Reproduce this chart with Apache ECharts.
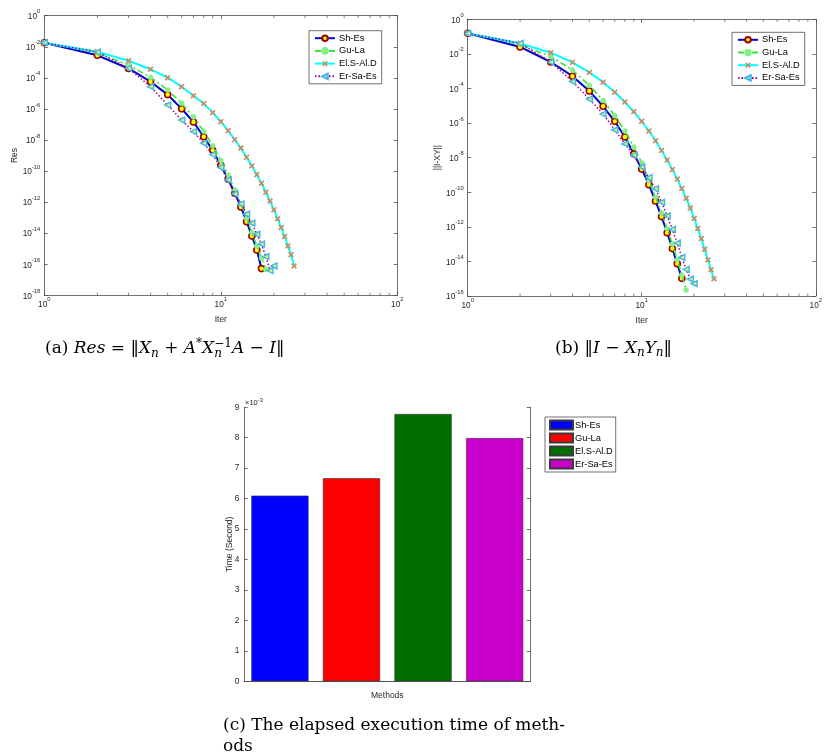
<!DOCTYPE html>
<html>
<head>
<meta charset="utf-8">
<script src="https://cdn.jsdelivr.net/npm/echarts@6/dist/echarts.min.js"></script>
<style>
  html, body { margin: 0; padding: 0; background: #ffffff; }
  #chart { width: 825px; height: 756px; }
</style>
</head>
<body>
<div id="chart"></div>
<script>
// ---- method names ----
const methods = ['Sh-Es', 'Gu-La', 'El.S-Al.D', 'Er-Sa-Es'];

// ---- (a) residual Res per iteration (iteration = position + 1) ----
const resShEs = [1.82e-2, 2.82e-3, 4.0e-4, 5.62e-5, 8.32e-6, 1.02e-6, 1.45e-7, 1.62e-8, 2.14e-9,
  2.34e-10, 3.09e-11, 3.72e-12, 4.90e-13, 5.50e-14, 6.61e-15, 8.32e-16, 5.25e-17];
const resGuLa = [1.82e-2, 3.98e-3, 6.61e-4, 1.07e-4, 1.66e-5, 2.29e-6, 3.02e-7, 3.63e-8, 4.17e-9,
  4.79e-10, 5.50e-11, 6.31e-12, 7.24e-13, 8.71e-14, 1.10e-14, 1.51e-15, 2.51e-16, 4.57e-17];
const resElSAlD = [1.82e-2, 4.79e-3, 1.26e-3, 3.55e-4, 1.02e-4, 2.69e-5, 7.08e-6, 2.19e-6, 5.75e-7,
  1.51e-7, 3.98e-8, 1.05e-8, 3.02e-9, 7.59e-10, 2.14e-10, 5.89e-11, 1.62e-11, 4.27e-12, 1.17e-12,
  3.16e-13, 8.32e-14, 2.29e-14, 6.03e-15, 1.51e-15, 4.17e-16, 7.76e-17];
const resErSaEs = [1.82e-2, 4.57e-3, 4.07e-4, 2.69e-5, 1.78e-6, 1.91e-7, 3.47e-8, 6.17e-9, 1.15e-9,
  1.74e-10, 2.69e-11, 3.39e-12, 7.59e-13, 1.66e-13, 4.37e-14, 8.51e-15, 1.95e-15, 3.09e-16,
  3.89e-17, 7.76e-17];

// ---- (b) ||I - X_n Y_n|| per iteration ----
const errShEs = [1.55e-1, 2.51e-2, 3.39e-3, 5.13e-4, 7.08e-5, 9.33e-6, 1.26e-6, 1.55e-7, 1.66e-8,
  2.19e-9, 2.75e-10, 3.09e-11, 3.89e-12, 4.57e-13, 5.62e-14, 7.41e-15, 1.05e-15];
const errGuLa = [1.55e-1, 3.55e-2, 6.92e-3, 1.17e-3, 1.51e-4, 2.00e-5, 2.63e-6, 3.47e-7, 4.17e-8,
  5.01e-9, 4.47e-10, 5.25e-11, 6.31e-12, 7.94e-13, 1.0e-13, 1.26e-14, 1.58e-15, 2.24e-16];
const errElSAlD = [1.55e-1, 4.07e-2, 1.17e-2, 3.24e-3, 8.51e-4, 2.29e-4, 6.03e-5, 1.66e-5, 4.57e-6,
  1.26e-6, 3.47e-7, 9.55e-8, 2.63e-8, 7.24e-9, 2.04e-9, 5.75e-10, 1.62e-10, 4.47e-11, 1.23e-11,
  3.02e-12, 7.94e-13, 2.09e-13, 5.01e-14, 1.26e-14, 3.31e-15, 1.0e-15];
const errErSaEs = [1.55e-1, 4.07e-2, 3.39e-3, 2.51e-4, 2.45e-5, 3.31e-6, 3.98e-7, 6.17e-8, 1.41e-8,
  2.88e-9, 6.92e-10, 1.55e-10, 2.63e-11, 4.27e-12, 7.08e-13, 1.15e-13, 1.70e-14, 3.47e-15,
  9.55e-16, 5.13e-16];

// ---- (c) elapsed time in seconds ----
const timeSeconds = [6.10e-3, 6.67e-3, 8.78e-3, 7.99e-3];

// ---- log-axis minor tick positions on the iteration axis ----
const minorTickValues = [2, 3, 4, 5, 6, 7, 8, 9, 20, 30, 40, 50, 60, 70, 80, 90];

// ---- styling ----
const SANS = 'Liberation Sans';
const SERIF = 'DejaVu Serif';
const BOX = '#4d4d4d';
const TXT = '#262626';

const seriesStyle = {
  'Sh-Es': {
    lineStyle: { color: '#0000d0', width: 2, type: 'solid' },
    symbol: 'circle', symbolSize: 6,
    itemStyle: { color: '#ffff00', borderColor: '#a00000', borderWidth: 1.6 }
  },
  'Gu-La': {
    lineStyle: { color: '#3be03b', width: 1.6, type: [6, 3, 2, 3] },
    symbol: 'circle', symbolSize: 5,
    itemStyle: { color: '#86ef86', borderColor: '#86ef86', borderWidth: 0.5 }
  },
  'El.S-Al.D': {
    lineStyle: { color: '#00ffff', width: 2, type: 'solid' },
    symbol: 'path://M0,2L2,0L5,3L8,0L10,2L7,5L10,8L8,10L5,7L2,10L0,8L3,5Z',
    symbolSize: 6,
    itemStyle: { color: '#bf9067', borderColor: '#bf9067', borderWidth: 0 }
  },
  'Er-Sa-Es': {
    lineStyle: { color: '#a000a0', width: 1.5, type: [1.5, 2] },
    symbol: 'path://M0,5L10,0L10,10Z', symbolSize: 6,
    itemStyle: { color: '#e4ef6a', borderColor: '#3cb8ee', borderWidth: 1.4 }
  }
};

function pairs(values) {
  return values.map((v, i) => [i + 1, v]);
}

function lineSeries(name, values, axisIdx, z) {
  const st = seriesStyle[name];
  return {
    type: 'line', name: name,
    xAxisIndex: axisIdx, yAxisIndex: axisIdx,
    data: pairs(values),
    symbol: st.symbol, symbolSize: st.symbolSize, showSymbol: true,
    lineStyle: st.lineStyle, itemStyle: st.itemStyle,
    emphasis: { disabled: true }, silent: true, z: z, clip: false
  };
}

// power-of-ten tick labels: "10" with a raised exponent
function expLabel(v) {
  const e = Math.round(Math.log10(v));
  return '{b|10}{s|' + e + '}';
}
const expRich = {
  b: { fontSize: 8.3, fontFamily: SANS, color: TXT, lineHeight: 14, verticalAlign: 'top', padding: [4, 0, 0, 0] },
  s: { fontSize: 5.8, fontFamily: SANS, color: TXT, lineHeight: 4, verticalAlign: 'top' }
};

function logX(gridIndex, position, showLabels) {
  return {
    type: 'log', logBase: 10, min: 1, max: 100, gridIndex: gridIndex, position: position,
    axisLine: { show: true, lineStyle: { color: BOX, width: 0.8 } },
    axisTick: { show: true, inside: true, length: 3.5, lineStyle: { color: BOX, width: 0.8 } },
    axisLabel: showLabels ? { show: true, margin: 1.5, formatter: expLabel, rich: expRich } : { show: false },
    splitLine: { show: false }, minorTick: { show: false },
    name: showLabels ? 'Iter' : '', nameLocation: 'middle', nameGap: 20,
    nameTextStyle: { fontFamily: SANS, fontSize: 8.5, color: TXT }
  };
}

function logY(gridIndex, position, minVal, name, nameGap) {
  const show = position === 'left';
  return {
    type: 'log', logBase: 100, min: minVal, max: 1, gridIndex: gridIndex, position: position,
    axisLine: { show: true, lineStyle: { color: BOX, width: 0.8 } },
    axisTick: { show: true, inside: true, length: 3.5, lineStyle: { color: BOX, width: 0.8 } },
    axisLabel: show ? { show: true, margin: 4, formatter: expLabel, rich: expRich } : { show: false },
    splitLine: { show: false }, minorTick: { show: false },
    name: show ? name : '', nameLocation: 'middle', nameGap: nameGap, nameRotate: 90,
    nameTextStyle: { fontFamily: SANS, fontSize: 8.5, color: TXT }
  };
}

function minorTicks(axisIdx, yMin) {
  return {
    type: 'custom', xAxisIndex: axisIdx, yAxisIndex: axisIdx, silent: true, clip: false, z: 1,
    data: minorTickValues.map(v => [v, yMin]),
    renderItem: function (params, api) {
      const b = api.coord([api.value(0), yMin]);
      const t = api.coord([api.value(0), 1]);
      const st = { stroke: BOX, lineWidth: 0.7 };
      return {
        type: 'group', children: [
          { type: 'line', shape: { x1: b[0], y1: b[1], x2: b[0], y2: b[1] - 2.5 }, style: st },
          { type: 'line', shape: { x1: t[0], y1: t[1], x2: t[0], y2: t[1] + 2.5 }, style: st }
        ]
      };
    }
  };
}

const lineLegendBase = {
  orient: 'vertical', data: methods,
  itemWidth: 20, itemHeight: 7, itemGap: 3.7,
  padding: [3, 5, 3, 5],
  backgroundColor: '#ffffff', borderColor: '#333333', borderWidth: 0.7, borderRadius: 0,
  textStyle: { fontFamily: SANS, fontSize: 9.3, color: '#000000', padding: [0, 0, 0, -1] },
  selectedMode: false
};

// ---- bar chart (c) ----
const barColors = ['#0000ff', '#ff0000', '#006f00', '#cc00cc'];
const barSuffix = ' (time)';
const barSeries = methods.map((m, i) => ({
  type: 'bar', name: m + barSuffix, xAxisIndex: 4, yAxisIndex: 4,
  data: [timeSeconds[i]],
  barGap: '25%', barCategoryGap: '4.9%',
  itemStyle: { color: barColors[i], borderColor: '#3a3a3a', borderWidth: 0.6 },
  emphasis: { disabled: true }, silent: true
}));

const option = {
  animation: false,
  backgroundColor: '#ffffff',
  grid: [
    { left: 44.3, top: 15.7, width: 353, height: 279.6 },
    { left: 467.7, top: 19.3, width: 352.3, height: 276.7 },
    { left: 244.3, top: 407.3, width: 286, height: 274 }
  ],
  xAxis: [
    logX(0, 'bottom', true), logX(0, 'top', false),
    logX(1, 'bottom', true), logX(1, 'top', false),
    {
      type: 'category', gridIndex: 2, position: 'bottom', data: ['Methods'],
      axisLine: { show: true, lineStyle: { color: BOX, width: 0.8 } },
      axisTick: { show: false }, axisLabel: { show: false },
      name: 'Methods', nameLocation: 'middle', nameGap: 10,
      nameTextStyle: { fontFamily: SANS, fontSize: 8.5, color: TXT }
    },
    {
      type: 'category', gridIndex: 2, position: 'top', data: ['Methods'],
      axisLine: { show: true, lineStyle: { color: BOX, width: 0.8 } },
      axisTick: { show: false }, axisLabel: { show: false }
    }
  ],
  yAxis: [
    logY(0, 'left', 1e-18, 'Res', 25), logY(0, 'right', 1e-18, '', 0),
    logY(1, 'left', 1e-16, '||I-XY||', 22), logY(1, 'right', 1e-16, '', 0),
    {
      type: 'value', gridIndex: 2, position: 'left', min: 0, max: 0.009, interval: 0.001,
      axisLine: { show: true, lineStyle: { color: BOX, width: 0.8 } },
      axisTick: { show: true, inside: true, length: 3.5, lineStyle: { color: BOX, width: 0.8 } },
      axisLabel: { margin: 5, fontFamily: SANS, fontSize: 8.3, color: TXT,
        formatter: v => String(Math.round(v * 1000)) },
      splitLine: { show: false },
      name: 'Time (Second)', nameLocation: 'middle', nameGap: 10, nameRotate: 90,
      nameMoveOverlap: false,
      nameTextStyle: { fontFamily: SANS, fontSize: 8.5, color: TXT }
    },
    {
      type: 'value', gridIndex: 2, position: 'right', min: 0, max: 0.009, interval: 0.001,
      axisLine: { show: true, lineStyle: { color: BOX, width: 0.8 } },
      axisTick: { show: true, inside: true, length: 3.5, lineStyle: { color: BOX, width: 0.8 } },
      axisLabel: { show: false }, splitLine: { show: false }
    }
  ],
  legend: [
    Object.assign({}, lineLegendBase, { left: 309, top: 30.7 }),
    Object.assign({}, lineLegendBase, { left: 732, top: 32.3 }),
    {
      orient: 'vertical', left: 545, top: 417,
      data: methods.map(m => ({ name: m + barSuffix, icon: 'rect' })),
      formatter: n => n.replace(barSuffix, ''),
      itemWidth: 23, itemHeight: 9, itemGap: 2,
      padding: [2.5, 3, 2.5, 4],
      backgroundColor: '#ffffff', borderColor: '#333333', borderWidth: 0.7,
      textStyle: { fontFamily: SANS, fontSize: 9.3, color: '#000000', padding: [0, 0, 0, -3] },
      selectedMode: false
    }
  ],
  series: [
    minorTicks(0, 1e-18),
    minorTicks(2, 1e-16),
    lineSeries('Sh-Es', resShEs, 0, 3),
    lineSeries('Gu-La', resGuLa, 0, 4),
    lineSeries('El.S-Al.D', resElSAlD, 0, 5),
    lineSeries('Er-Sa-Es', resErSaEs, 0, 6),
    lineSeries('Sh-Es', errShEs, 2, 3),
    lineSeries('Gu-La', errGuLa, 2, 4),
    lineSeries('El.S-Al.D', errElSAlD, 2, 5),
    lineSeries('Er-Sa-Es', errErSaEs, 2, 6)
  ].concat(barSeries),
  graphic: []
};

// ---- captions (math typeset with rich text; padding shifts sub/superscripts) ----
const capSize = 17;
const smallSize = 12;
const capRich = {
  r: { fontFamily: SERIF, fontSize: capSize, color: '#000', lineHeight: 26, verticalAlign: 'middle' },
  i: { fontFamily: SERIF, fontSize: capSize, fontStyle: 'italic', color: '#000', lineHeight: 26, verticalAlign: 'middle' },
  sub: { fontFamily: SERIF, fontSize: smallSize, fontStyle: 'italic', color: '#000', lineHeight: 26, verticalAlign: 'middle', padding: [9, 0, 0, 0] },
  subStack: { fontFamily: SERIF, fontSize: smallSize, fontStyle: 'italic', color: '#000', lineHeight: 26, verticalAlign: 'middle', padding: [9, 0, 0, 0], width: 0 },
  sup: { fontFamily: SERIF, fontSize: smallSize, color: '#000', lineHeight: 26, verticalAlign: 'middle', padding: [0, 0, 10, 0] }
};

const captionA = '{r|(a) }{i|Res}{r| = \u2016}{i|X}{sub|n}{r| + }{i|A}{sup|*}{i|X}{subStack|n}{sup|\u22121}{i|A}{r| \u2212 }{i|I}{r|\u2016}';
const captionB = '{r|(b) \u2016}{i|I}{r| \u2212 }{i|X}{sub|n}{i|Y}{sub|n}{r|\u2016}';
const captionC1 = '(c) The elapsed execution time of meth-';
const captionC2 = 'ods';

option.graphic = [
  { type: 'text', left: 45, top: 338, style: { text: captionA, rich: capRich } },
  { type: 'text', left: 555, top: 338, style: { text: captionB, rich: capRich } },
  { type: 'text', left: 223, top: 717, style: { text: captionC1, fontFamily: SERIF, fontSize: capSize, fill: '#000' } },
  { type: 'text', left: 223, top: 738, style: { text: captionC2, fontFamily: SERIF, fontSize: capSize, fill: '#000' } },
  // exponent multiplier of the time axis
  { type: 'text', left: 245, top: 397, style: { text: '{m|\u00d710}{s|-3}', rich: {
      m: { fontFamily: SANS, fontSize: 7.5, fill: TXT, lineHeight: 10, verticalAlign: 'top', padding: [2, 0, 0, 0] },
      s: { fontFamily: SANS, fontSize: 5.8, fill: TXT, lineHeight: 4, verticalAlign: 'top' } } } }
];

const chart = echarts.init(document.getElementById('chart'), null, { renderer: 'canvas' });
chart.setOption(option);
</script>
</body>
</html>
